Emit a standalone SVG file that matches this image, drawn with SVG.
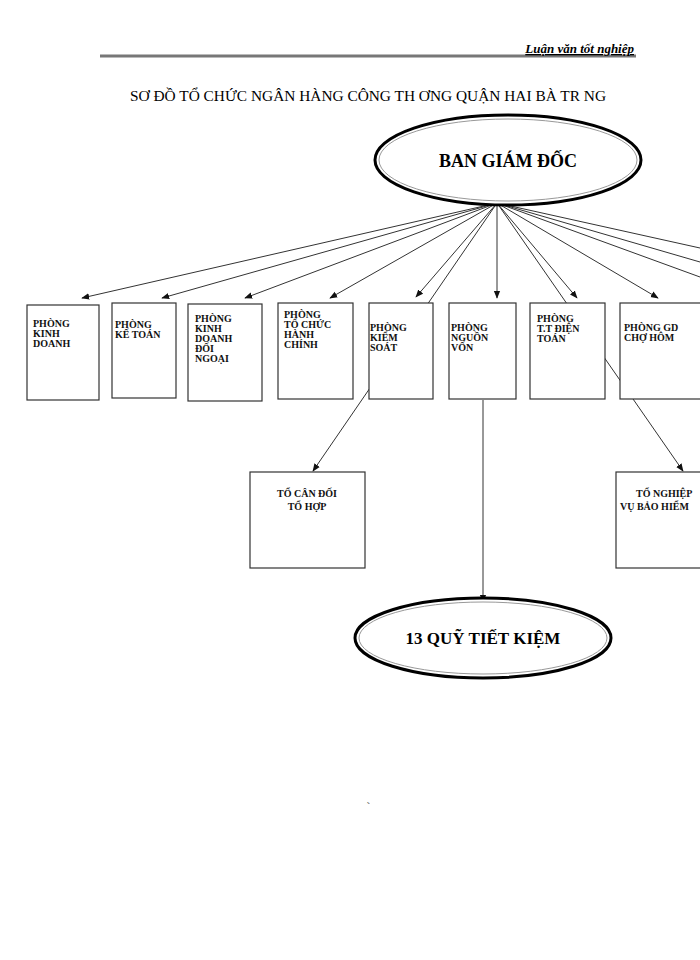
<svg xmlns="http://www.w3.org/2000/svg" width="700" height="960" viewBox="0 0 700 960">
<style>
.b{fill:#fff;stroke:#333;stroke-width:1.2}
.t{font-family:"Liberation Serif",serif;font-weight:bold;font-size:10px;fill:#111}
.c line{stroke:#333;stroke-width:1}
.e1{fill:#fff;stroke:#000;stroke-width:3}
.e2{fill:none;stroke:#999;stroke-width:1}
</style>
<defs><marker id="a" viewBox="0 0 10 10" refX="9" refY="5" markerWidth="8" markerHeight="8" orient="auto"><path d="M0,1 L10,5 L0,9 z" fill="#111"/></marker></defs>
<rect width="700" height="960" fill="#fff"/>
<line x1="100" y1="56" x2="636" y2="56" stroke="#777" stroke-width="3"/>
<text x="634" y="53" text-anchor="end" font-family="Liberation Serif,serif" font-style="italic" font-weight="bold" font-size="13" text-decoration="underline">Luận văn tốt nghiệp</text>
<text x="368" y="101" text-anchor="middle" font-family="Liberation Serif,serif" font-size="15" textLength="476" lengthAdjust="spacingAndGlyphs">SƠ ĐỒ TỔ CHỨC NGÂN HÀNG CÔNG TH  ƠNG QUẬN HAI BÀ TR  NG</text>
<g class="c">
<line x1="497" y1="203" x2="82" y2="298" marker-end="url(#a)"/>
<line x1="497" y1="203" x2="162" y2="298" marker-end="url(#a)"/>
<line x1="497" y1="203" x2="245" y2="298" marker-end="url(#a)"/>
<line x1="497" y1="203" x2="330" y2="298" marker-end="url(#a)"/>
<line x1="497" y1="203" x2="416" y2="297" marker-end="url(#a)"/>
<line x1="497" y1="203" x2="497" y2="298" marker-end="url(#a)"/>
<line x1="497" y1="203" x2="577" y2="298" marker-end="url(#a)"/>
<line x1="497" y1="203" x2="658" y2="298" marker-end="url(#a)"/>
<line x1="497" y1="203" x2="700" y2="248"/>
<line x1="497" y1="203" x2="700" y2="262"/>
<line x1="497" y1="203" x2="700" y2="277"/>
<line x1="497" y1="203" x2="313" y2="471" marker-end="url(#a)"/>
<line x1="497" y1="203" x2="683" y2="471" marker-end="url(#a)"/>
<line x1="483" y1="400" x2="483" y2="602" marker-end="url(#a)"/>
</g>
<g id="bgd"><ellipse cx="508" cy="160" rx="133" ry="45" class="e1"/><ellipse cx="508" cy="160" rx="129" ry="41" class="e2"/>
<text x="508" y="167" text-anchor="middle" font-family="Liberation Serif,serif" font-weight="bold" font-size="18">BAN GIÁM ĐỐC</text></g>
<g id="p1"><rect x="27" y="305" width="72" height="95" class="b"/><text class="t" x="33" y="327">PHÒNG</text><text class="t" x="33" y="337">KINH</text><text class="t" x="33" y="347">DOANH</text></g>
<g id="p2"><rect x="112" y="303" width="64" height="95" class="b"/><text class="t" x="115" y="328">PHÒNG</text><text class="t" x="115" y="338">KẾ TOÁN</text></g>
<g id="p3"><rect x="188" y="304" width="74" height="97" class="b"/><text class="t" x="195" y="322">PHÒNG</text><text class="t" x="195" y="332">KINH</text><text class="t" x="195" y="342">DOANH</text><text class="t" x="195" y="352">ĐỐI</text><text class="t" x="195" y="362">NGOẠI</text></g>
<g id="p4"><rect x="278" y="303" width="75" height="96" class="b"/><text class="t" x="284" y="318">PHÒNG</text><text class="t" x="284" y="328">TỔ CHỨC</text><text class="t" x="284" y="338">HÀNH</text><text class="t" x="284" y="348">CHÍNH</text></g>
<g id="p5"><rect x="369" y="303" width="64" height="96" class="b"/><text class="t" x="370" y="331">PHÒNG</text><text class="t" x="370" y="341">KIỂM</text><text class="t" x="370" y="351">SOÁT</text></g>
<g id="p6"><rect x="449" y="303" width="67" height="96" class="b"/><text class="t" x="451" y="331">PHÒNG</text><text class="t" x="451" y="341">NGUỒN</text><text class="t" x="451" y="351">VỐN</text></g>
<g id="p7"><rect x="530" y="303" width="75" height="96" class="b"/><text class="t" x="537" y="322">PHÒNG</text><text class="t" x="537" y="332">T.T ĐIỆN</text><text class="t" x="537" y="342">TOÁN</text></g>
<g id="p8"><rect x="620" y="303" width="85" height="96" class="b"/><text class="t" x="624" y="331">PHÒNG  GD</text><text class="t" x="624" y="341">CHỢ HÔM</text></g>
<g id="tcd"><rect x="250" y="472" width="115" height="96" class="b"/><text class="t" x="307" y="497" text-anchor="middle" font-size="12">TỔ CÂN ĐỐI</text><text class="t" x="307" y="510" text-anchor="middle" font-size="12">TỔ HỢP</text></g>
<g id="tnv"><rect x="616" y="472" width="90" height="96" class="b"/><text class="t" x="636" y="497" font-size="12">TỔ NGHIỆP</text><text class="t" x="620" y="510" font-size="12">VỤ BẢO HIỂM</text></g>
<g id="qtk"><ellipse cx="483" cy="638" rx="128" ry="40" class="e1"/><ellipse cx="483" cy="638" rx="124" ry="36" class="e2"/>
<text x="483" y="644" text-anchor="middle" font-family="Liberation Serif,serif" font-weight="bold" font-size="17">13 QUỸ TIẾT KIỆM</text></g>
<text x="367" y="808" font-family="Liberation Serif,serif" font-size="8">˜</text>
</svg>
